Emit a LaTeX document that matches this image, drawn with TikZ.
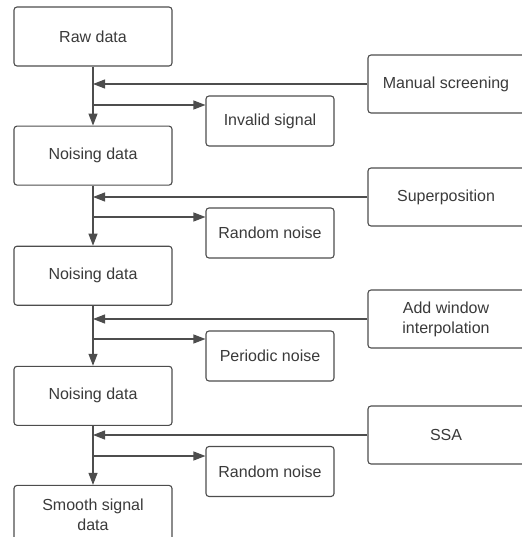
\documentclass[tikz,border=0pt]{standalone}
\usepackage{fontspec}
\setmainfont{Liberation Sans}
\usetikzlibrary{arrows.meta, positioning}
\definecolor{linegray}{HTML}{4D4D4D}
\definecolor{textgray}{HTML}{3A3A3A}

\tikzset{
    box/.style={draw=linegray, line width=1.1pt, rounded corners=3pt, text=textgray,
        font=\fontsize{16}{20}\selectfont, align=center, inner sep=0pt},
    mainbox/.style={box, minimum width=158pt, minimum height=59pt},
    sidebox/.style={box, minimum width=162pt, minimum height=58pt},
    noisebox/.style={box, minimum width=128pt, minimum height=50pt},
    flow/.style={draw=linegray, line width=1.1pt, -{Triangle[length=12pt, width=9pt]}}
}

\begin{document}
\begin{tikzpicture}[x=1pt, y=-1pt]
    \useasboundingbox (0,0) rectangle (521,537);

    % main chain
    \node[mainbox] (raw) at (93,36.5) {Raw data};
    \node[mainbox, below=59pt of raw] (noise1) {Noising data};
    \node[mainbox, below=60pt of noise1] (noise2) {Noising data};
    \node[mainbox, below=60pt of noise2] (noise3) {Noising data};
    \node[mainbox, below=59pt of noise3] (smooth) {Smooth signal\\data};

    % processing steps on the right
    \node[sidebox] (manual) at (449,84) {\hspace*{-6pt}Manual screening};
    \node[sidebox] (superpos) at (449,197) {\hspace*{-6pt}Superposition};
    \node[sidebox] (window) at (449,319) {\hspace*{-6pt}Add window\\\hspace*{-6pt}interpolation};
    \node[sidebox] (ssa) at (449,435) {\hspace*{-6pt}SSA};

    % removed parts
    \node[noisebox] (invalid) at (270,121) {Invalid signal};
    \node[noisebox] (random1) at (270,233) {Random noise};
    \node[noisebox] (periodic) at (270,356) {Periodic noise};
    \node[noisebox] (random2) at (270,471.5) {Random noise};

    % junctions on the trunk
    \coordinate (in1) at (raw.south |- manual.west);
    \coordinate (in2) at (raw.south |- superpos.west);
    \coordinate (in3) at (raw.south |- window.west);
    \coordinate (in4) at (raw.south |- ssa.west);
    \coordinate (out1) at (93,105);
    \coordinate (out2) at (93,217);
    \coordinate (out3) at (93,339);
    \coordinate (out4) at (93,456);

    \draw[flow] (raw) -- (noise1);
    \draw[flow] (noise1) -- (noise2);
    \draw[flow] (noise2) -- (noise3);
    \draw[flow] (noise3) -- (smooth);

    \draw[flow] (manual) -- (in1);
    \draw[flow] (superpos) -- (in2);
    \draw[flow] (window) -- (in3);
    \draw[flow] (ssa) -- (in4);

    \draw[flow] (out1) -- (invalid.west |- out1);
    \draw[flow] (out2) -- (random1.west |- out2);
    \draw[flow] (out3) -- (periodic.west |- out3);
    \draw[flow] (out4) -- (random2.west |- out4);
\end{tikzpicture}
\end{document}
